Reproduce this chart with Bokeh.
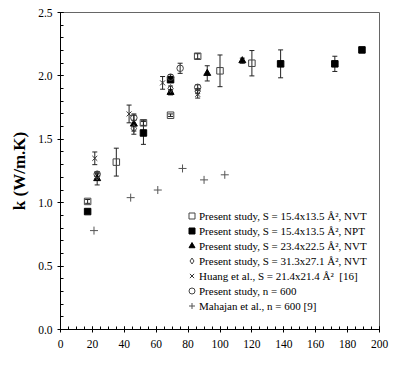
from bokeh.plotting import figure
from bokeh.models import (ColumnDataSource, Whisker, TeeHead, Legend, LegendItem,
                          Label, FixedTicker, NumeralTickFormatter)
from bokeh.embed import file_html
from bokeh.resources import INLINE

# ---------------- data ----------------
sq_open_lz = [17, 35, 52, 69, 86, 100, 120]
sq_open_k = [1.01, 1.32, 1.63, 1.69, 2.155, 2.04, 2.10]
sq_open_err = [0.015, 0.11, 0.02, 0.01, 0.02, 0.125, 0.10]

sq_fill_lz = [17, 52, 69, 138, 172, 189]
sq_fill_k = [0.93, 1.55, 1.97, 2.095, 2.095, 2.205]
sq_fill_err = [0.01, 0.09, 0.02, 0.11, 0.06, 0.02]

tri_lz = [23, 46, 69, 92, 114]
tri_k = [1.19, 1.62, 1.87, 2.02, 2.12]
tri_err = [0.05, 0.08, 0.02, 0.06, 0.02]

dia_lz = [23, 46, 69, 86]
dia_k = [1.21, 1.585, 1.90, 1.88]
dia_err = [0.02, 0.02, 0.02, 0.02]

huang_lz = [21.5, 43, 64, 86]
huang_k = [1.35, 1.70, 1.945, 1.855]
huang_err = [0.05, 0.07, 0.05, 0.03]

circ_lz = [23, 46, 69, 75, 86]
circ_k = [1.225, 1.67, 1.99, 2.06, 1.91]
circ_err = [0.02, 0.02, 0.02, 0.04, 0.02]

mah_lz = [21, 44, 61, 76.5, 90, 103]
mah_k = [0.78, 1.04, 1.10, 1.27, 1.18, 1.22]

labels = [
    "Present study, S = 15.4x13.5 Å², NVT",
    "Present study, S = 15.4x13.5 Å², NPT",
    "Present study, S = 23.4x22.5 Å², NVT",
    "Present study, S = 31.3x27.1 Å², NVT",
    "Huang et al., S = 21.4x21.4 Å²  [16]",
    "Present study, n = 600",
    "Mahajan et al., n = 600 [9]",
]

x_ticks = list(range(0, 201, 20))
y_ticks = [0.0, 0.5, 1.0, 1.5, 2.0, 2.5]

SERIF = "Liberation Serif"

p = figure(width=400, height=387, output_backend="svg", toolbar_location=None,
           x_range=(0, 200), y_range=(0, 2.5),
           min_border_left=60, min_border_right=21, min_border_top=12, min_border_bottom=58)
p.background_fill_color = "white"
p.border_fill_color = "white"
p.outline_line_color = "#666666"
p.xgrid.visible = False
p.ygrid.visible = False

for ax in (p.xaxis[0], p.yaxis[0]):
    ax.axis_line_color = "black"
    ax.major_tick_line_color = "black"
    ax.minor_tick_line_color = "black"
    ax.major_tick_in = 3
    ax.major_tick_out = 3
    ax.minor_tick_in = 3
    ax.minor_tick_out = 0
    ax.major_label_text_font = SERIF
    ax.major_label_text_font_size = "11.5px"
    ax.major_label_text_color = "black"

p.xaxis.ticker = FixedTicker(ticks=x_ticks, minor_ticks=list(range(0, 201, 5)))
p.yaxis.ticker = FixedTicker(ticks=y_ticks, minor_ticks=[i / 10 for i in range(0, 26)])
p.yaxis.formatter = NumeralTickFormatter(format="0.0")
p.xaxis.major_label_standoff = 7
p.yaxis.major_label_standoff = 5

p.yaxis.axis_label = "k (W/m.K)"
p.yaxis.axis_label_text_font = SERIF
p.yaxis.axis_label_text_font_size = "17px"
p.yaxis.axis_label_text_font_style = "bold"
p.yaxis.axis_label_text_color = "black"
p.yaxis.axis_label_standoff = 6

# x axis label with subscript (positions relative to frame)
for txt, sx, sy, fs in [("L", 138, -40, "17px"), ("z", 149, -43, "11px"), ("(Å)", 157, -40, "17px")]:
    p.add_layout(Label(x=sx, y=sy, x_units="screen", y_units="screen", text=txt,
                       text_font=SERIF, text_font_size=fs, text_font_style="bold",
                       text_color="black", text_baseline="alphabetic", text_align="left"))

EB = "#222222"


def add_series(lz, k, err, marker, size, line_color, fill_color, fill_alpha=1.0, lw=1.0):
    if err is not None:
        src = ColumnDataSource(dict(x=lz, y=k,
                                    upper=[a + b for a, b in zip(k, err)],
                                    lower=[a - b for a, b in zip(k, err)]))
        w = Whisker(source=src, base="x", upper="upper", lower="lower", dimension="height",
                    line_color=EB, line_width=1,
                    upper_head=TeeHead(size=5, line_color=EB, line_width=1),
                    lower_head=TeeHead(size=5, line_color=EB, line_width=1))
        p.add_layout(w)
    else:
        src = ColumnDataSource(dict(x=lz, y=k))
    r = p.scatter("x", "y", source=src, marker=marker, size=size, line_color=line_color,
                  fill_color=fill_color, fill_alpha=fill_alpha, line_width=lw)
    return r


r1 = add_series(sq_open_lz, sq_open_k, sq_open_err, "square", 6.5, "#444444", "white", 0.0)
r2 = add_series(sq_fill_lz, sq_fill_k, sq_fill_err, "square", 6.5, "black", "black")
r3 = add_series(tri_lz, tri_k, tri_err, "triangle", 7, "black", "black")
r4 = add_series(dia_lz, dia_k, dia_err, "diamond", 8, "#444444", "white", 0.0)
r5 = add_series(huang_lz, huang_k, huang_err, "x", 7, "#333333", None)
r6 = add_series(circ_lz, circ_k, circ_err, "circle", 6.5, "#444444", "white", 0.0)
r7 = add_series(mah_lz, mah_k, None, "cross", 8, "#555555", None)

items = [LegendItem(label=l, renderers=[r]) for l, r in zip(labels, [r1, r2, r3, r4, r5, r6, r7])]
legend = Legend(items=items, location=(124, 16), padding=0, margin=0, spacing=0,
                glyph_width=15, glyph_height=15, label_height=15, label_standoff=0,
                label_text_font=SERIF, label_text_font_size="11px", label_text_color="black",
                border_line_color=None, background_fill_alpha=0.0)
p.add_layout(legend, "center")

open("out.html", "w").write(file_html(p, INLINE))
